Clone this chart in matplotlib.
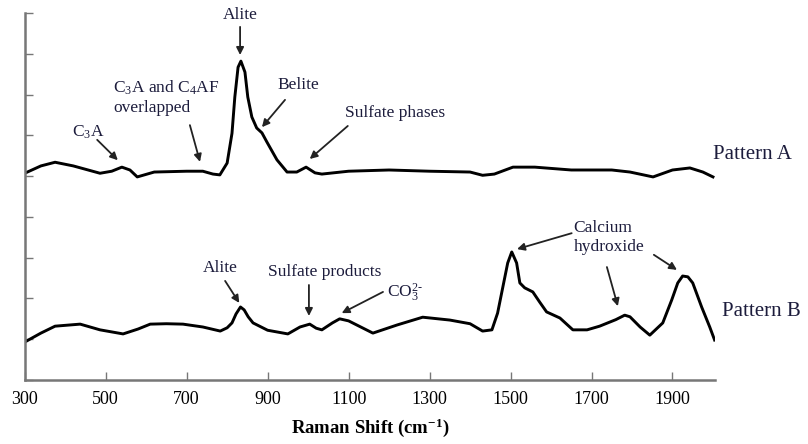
import matplotlib
matplotlib.use("Agg")
import matplotlib.pyplot as plt

plt.rcParams['font.family'] = ['Liberation Serif', 'DejaVu Serif']
plt.rcParams['mathtext.fontset'] = 'custom'
plt.rcParams['mathtext.rm'] = 'Liberation Serif'
plt.rcParams['mathtext.it'] = 'Liberation Serif:italic'
plt.rcParams['mathtext.bf'] = 'Liberation Serif:bold'

# Pattern A (upper spectrum)
wave_a = [300, 340, 375, 420, 486, 515, 540, 560, 578, 620, 700, 740, 765, 782, 800,
          812, 819, 827, 834, 844, 851, 861, 873, 886, 898, 923, 948, 972, 995, 1017,
          1034, 1100, 1200, 1300, 1400, 1431, 1460, 1506, 1560, 1650, 1750, 1795, 1852,
          1900, 1943, 1975, 2000]
int_a = [5.07, 5.25, 5.34, 5.25, 5.07, 5.12, 5.22, 5.15, 4.98, 5.10, 5.12, 5.12, 5.05, 5.03, 5.32,
         6.05, 6.94, 7.67, 7.82, 7.55, 6.94, 6.45, 6.18, 6.06, 5.84, 5.40, 5.10, 5.10, 5.22, 5.08,
         5.05, 5.12, 5.15, 5.12, 5.1, 5.02, 5.05, 5.22, 5.22, 5.15, 5.15, 5.1, 4.98,
         5.15, 5.2, 5.1, 4.98]

# Pattern B (lower spectrum)
wave_b = [300, 340, 375, 437, 486, 543, 580, 610, 650, 691, 740, 783, 800, 812, 822, 833,
          842, 852, 864, 900, 950, 980, 1004, 1020, 1034, 1060, 1078, 1100, 1130, 1160,
          1220, 1283, 1350, 1400, 1431, 1454, 1468, 1481, 1493, 1503, 1515, 1523, 1535,
          1555, 1572, 1589, 1622, 1654, 1689, 1720, 1760, 1782, 1795, 1820, 1844, 1876,
          1898, 1913, 1925, 1938, 1950, 1972, 1992, 2004]
int_b = [0.93, 1.15, 1.32, 1.37, 1.23, 1.13, 1.25, 1.37, 1.38, 1.37, 1.30, 1.20, 1.28, 1.40,
         1.62, 1.79, 1.72, 1.55, 1.40, 1.22, 1.13, 1.30, 1.37, 1.27, 1.23, 1.40, 1.50, 1.45,
         1.30, 1.15, 1.35, 1.54, 1.47, 1.38, 1.20, 1.23, 1.64, 2.28, 2.87, 3.14, 2.87, 2.38,
         2.26, 2.16, 1.91, 1.67, 1.52, 1.23, 1.23, 1.32, 1.48, 1.59, 1.55, 1.30, 1.10, 1.40,
         1.96, 2.38, 2.55, 2.53, 2.38, 1.79, 1.30, 0.98]

x_ticks = [300, 500, 700, 900, 1100, 1300, 1500, 1700, 1900]
y_ticks = list(range(0, 10))

# annotations: (text, text position, arrow tail, arrow head, ha)
annotations = [
    ("Alite", (832, 8.95), (832, 8.66), (832, 7.97), 'center'),
    ("C$_3$A", (456, 6.08), (479, 5.89), (530, 5.39), 'center'),
    ("C$_3$A and C$_4$AF\noverlapped", (518, 6.93), (708, 6.25), (733, 5.35), 'left'),
    ("Belite", (977, 7.23), (943, 6.87), (886, 6.20), 'center'),
    ("Sulfate phases", (1215, 6.55), (1098, 6.23), (1004, 5.42), 'center'),
    ("Alite", (783, 2.75), (795, 2.43), (830, 1.89), 'center'),
    ("Sulfate products", (1042, 2.65), (1002, 2.33), (1002, 1.57), 'center'),
    (r"CO$_3^{2\text{-}}$", (1195, 2.13), (1185, 2.16), (1083, 1.64), 'left'),
]
ch_text = ("Calcium\nhydroxide", (1656, 3.49))
ch_arrows = [((1651, 3.60), (1516, 3.21)),
             ((1738, 2.77), (1765, 1.81)),
             ((1854, 3.07), (1911, 2.70))]
pattern_labels = [("Pattern A", (2000, 5.52)), ("Pattern B", (2022, 1.67))]

txt_color = '#1c1c3c'
W, H = 808, 444
fig = plt.figure(figsize=(W / 100, H / 100), dpi=100)
ax = fig.add_axes([24.7 / W, 64 / H, (715 - 24.7) / W, (380 - 13) / H])

ax.plot(wave_a, int_a, color='black', lw=2.1, solid_joinstyle='round')
ax.plot(wave_b, int_b, color='black', lw=2.1, solid_joinstyle='round')

ax.set_xlim(300, 2005)
ax.set_ylim(0, 9)
ax.set_xticks(x_ticks)
ax.set_yticks(y_ticks)
ax.set_yticklabels([])
ax.tick_params(axis='both', direction='in', length=6, width=1.0, color='#777777')
ax.tick_params(axis='x', labelsize=13, pad=8, labelcolor='black')
for s in ['top', 'right']:
    ax.spines[s].set_visible(False)
for s in ['left', 'bottom']:
    ax.spines[s].set_color('#777777')
    ax.spines[s].set_linewidth(1.8)

ax.set_xlabel(r"Raman Shift (cm$^{\mathbf{-1}}$)", fontsize=13.5, fontweight='bold', labelpad=6)

arrow_kw = dict(arrowstyle='-|>', lw=1.3, color='#222222', mutation_scale=11,
                shrinkA=0, shrinkB=0)
for text, tpos, tail, head, ha in annotations:
    ax.text(tpos[0], tpos[1], text, ha=ha, va='center', fontsize=12.5,
            color=txt_color, clip_on=False, linespacing=1.25)
    ax.annotate("", xy=head, xytext=tail, arrowprops=arrow_kw, annotation_clip=False)

ax.text(ch_text[1][0], ch_text[1][1], ch_text[0], ha='left', va='center', fontsize=12.5,
        color=txt_color, clip_on=False, linespacing=1.25)
for tail, head in ch_arrows:
    ax.annotate("", xy=head, xytext=tail, arrowprops=arrow_kw, annotation_clip=False)

for text, pos in pattern_labels:
    ax.text(pos[0], pos[1], text, ha='left', va='center', fontsize=15,
            color=txt_color, clip_on=False)

fig.savefig("out.png", dpi=100)
